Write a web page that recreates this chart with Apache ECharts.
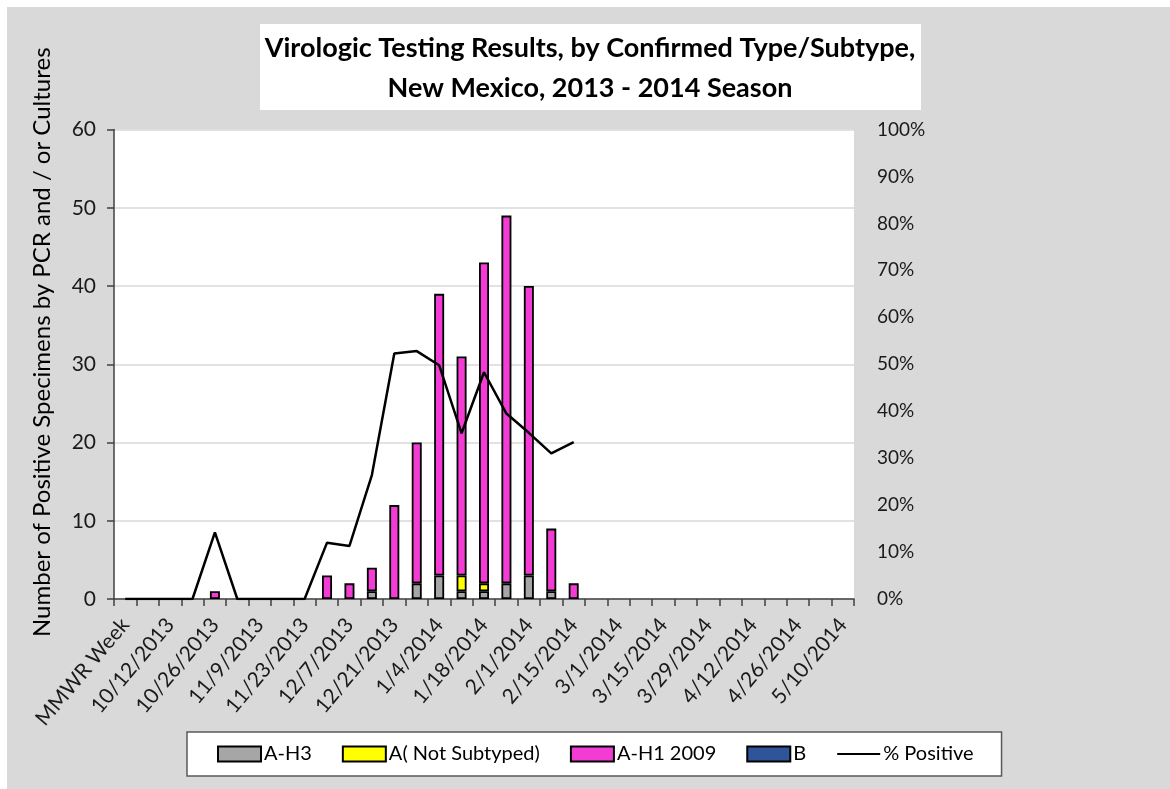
<!DOCTYPE html>
<html>
<head>
<meta charset="utf-8">
<script src="https://cdn.jsdelivr.net/npm/echarts@6/dist/echarts.min.js"></script>
<style>
  body { margin: 0; background: #fff; }
  #chart { width: 1170px; height: 789px; }
</style>
</head>
<body>
<div id="chart"></div>
<script>
// week ending dates (MMWR weeks)
const weeks = ['MMWR Week', '10/5/2013', '10/12/2013', '10/19/2013', '10/26/2013', '11/2/2013', '11/9/2013',
  '11/16/2013', '11/23/2013', '11/30/2013', '12/7/2013', '12/14/2013', '12/21/2013', '12/28/2013',
  '1/4/2014', '1/11/2014', '1/18/2014', '1/25/2014', '2/1/2014', '2/8/2014', '2/15/2014', '2/22/2014',
  '3/1/2014', '3/8/2014', '3/15/2014', '3/22/2014', '3/29/2014', '4/5/2014', '4/12/2014', '4/19/2014',
  '4/26/2014', '5/3/2014', '5/10/2014']

const aH3 = [0, 0, 0, 0, 0, 0, 0, 0, 0, 0, 0, 1, 0, 2, 3, 1, 1, 2, 3, 1, 0,
  0, 0, 0, 0, 0, 0, 0, 0, 0, 0, 0, 0]
const aNotSubtyped = [0, 0, 0, 0, 0, 0, 0, 0, 0, 0, 0, 0, 0, 0, 0, 2, 1, 0, 0, 0, 0,
  0, 0, 0, 0, 0, 0, 0, 0, 0, 0, 0, 0]
const aH1 = [0, 0, 0, 0, 1, 0, 0, 0, 0, 3, 2, 3, 12, 18, 36, 28, 41, 47, 37, 8, 2,
  0, 0, 0, 0, 0, 0, 0, 0, 0, 0, 0, 0]
const typeB = [0, 0, 0, 0, 0, 0, 0, 0, 0, 0, 0, 0, 0, 0, 0, 0, 0, 0, 0, 0, 0,
  0, 0, 0, 0, 0, 0, 0, 0, 0, 0, 0, 0]
// percent positive, no data after 2/15/2014
const pctPositive = [0, 0, 0, 0, 14.2, 0, 0, 0, 0, 12.0, 11.3, 26.4, 52.3, 52.8, 49.8, 35.3, 48.3,
  39.5, 35.4, 31.0, 33.4, null, null, null, null, null, null, null, null, null, null, null, null]

const font = 'Lato, "Open Sans", sans-serif'
const axisColor = '#404040'

let chart = echarts.init(document.getElementById('chart'))

function barSeries (name, data, color) {
  return {
    name: name,
    type: 'bar',
    stack: 'flu',
    barWidth: 10,
    // zero counts are left empty so no flat outline is drawn on the axis
    data: data.map(v => (v === 0 ? '-' : v)),
    itemStyle: {
      color: color,
      borderColor: '#000',
      borderWidth: 1.8
    }
  }
}

let option = {
  backgroundColor: '#fff',
  animation: false,
  textStyle: { fontFamily: font },
  graphic: [
    { // grey chart area
      type: 'rect',
      z: -10,
      shape: { x: 7, y: 7, width: 1163, height: 782 },
      style: { fill: '#D9D9D9' }
    },
    { // title box
      type: 'rect',
      z: -5,
      shape: { x: 260, y: 24, width: 661, height: 86 },
      style: { fill: '#fff' }
    },
    {
      type: 'text',
      x: 590,
      y: 68,
      style: {
        text: 'Virologic Testing Results, by Confirmed Type/Subtype,\nNew Mexico, 2013 - 2014 Season',
        fontFamily: font,
        fontSize: 27,
        fontWeight: 'bold',
        lineHeight: 40,
        fill: '#000',
        align: 'center',
        verticalAlign: 'middle'
      }
    }
  ],
  grid: {
    left: 114,
    right: 316,
    top: 129.5,
    bottom: 190,
    show: true,
    backgroundColor: '#fff',
    borderWidth: 0
  },
  legend: {
    left: 187,
    top: 732,
    padding: [12, 28, 12, 30],
    backgroundColor: '#fff',
    borderColor: '#595959',
    borderWidth: 1.5,
    itemWidth: 43,
    itemHeight: 15,
    itemGap: 30,
    textStyle: { fontFamily: font, fontSize: 20, color: '#000', padding: [0, 0, 0, -2] },
    data: [
      { name: 'A-H3', icon: 'rect' },
      { name: 'A( Not Subtyped)', icon: 'rect' },
      { name: 'A-H1 2009', icon: 'rect' },
      { name: 'B', icon: 'rect' },
      { name: '% Positive', itemStyle: { opacity: 0 } }
    ]
  },
  xAxis: {
    type: 'category',
    data: weeks,
    axisLine: { lineStyle: { color: axisColor, width: 1.5 } },
    axisTick: { show: true, interval: 0, length: 7, lineStyle: { color: axisColor, width: 1.5 } },
    axisLabel: {
      interval: 1,
      rotate: 50,
      margin: 22,
      fontFamily: font,
      fontSize: 21,
      color: '#1a1a1a'
    }
  },
  yAxis: [
    {
      type: 'value',
      min: 0,
      max: 60,
      interval: 10,
      name: 'Number of Positive Specimens by PCR and / or Cultures',
      nameLocation: 'middle',
      nameRotate: 90,
      nameGap: 60,
      nameTextStyle: { fontFamily: font, fontSize: 24, color: '#000', padding: [0, 0, 0, 44] },
      axisLine: { show: true, lineStyle: { color: axisColor, width: 1.5 } },
      axisTick: { show: true, length: 7, lineStyle: { color: axisColor, width: 1.5 } },
      axisLabel: { fontFamily: font, fontSize: 21, color: '#1a1a1a', margin: 18 },
      splitLine: { lineStyle: { color: '#D9D9D9', width: 1.5 } }
    },
    {
      type: 'value',
      min: 0,
      max: 100,
      interval: 10,
      position: 'right',
      axisLine: { show: false },
      axisTick: { show: false },
      splitLine: { show: false },
      axisLabel: { formatter: '{value}%', fontFamily: font, fontSize: 19, color: '#1a1a1a', margin: 23 }
    }
  ],
  series: [
    barSeries('A-H3', aH3, '#A6A6A6'),
    barSeries('A( Not Subtyped)', aNotSubtyped, '#FFFF00'),
    barSeries('A-H1 2009', aH1, '#F23CD4'),
    barSeries('B', typeB, '#2F549A'),
    {
      name: '% Positive',
      type: 'line',
      yAxisIndex: 1,
      data: pctPositive,
      symbol: 'none',
      lineStyle: { color: '#000', width: 2.5 },
      itemStyle: { color: '#000' }
    }
  ]
}

chart.setOption(option)
</script>
</body>
</html>
